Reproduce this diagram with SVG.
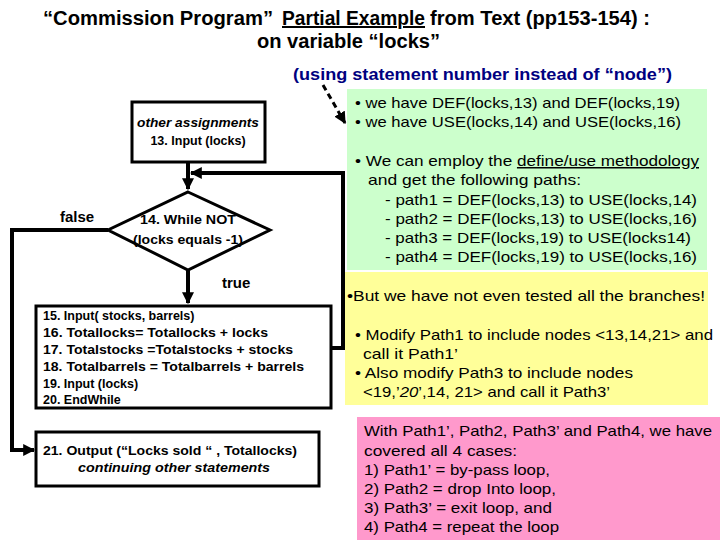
<svg xmlns="http://www.w3.org/2000/svg" width="720" height="540" viewBox="0 0 720 540">
<style>
.t{font-family:"Liberation Sans",Arial,sans-serif;fill:#000}
.title{font-size:20px;font-weight:bold}
.note{font-size:17px;font-weight:bold;fill:#000080}
.fc{font-size:12.5px;font-weight:bold}
.bx{font-size:15px}
.node{fill:#fff;stroke:#000;stroke-width:3}
.ln{fill:none;stroke:#000;stroke-width:4}
</style>
<defs>
<marker id="ah" viewBox="0 0 10 10" refX="9" refY="5" markerWidth="3" markerHeight="3" orient="auto" markerUnits="strokeWidth">
<path d="M0,0 L10,5 L0,10 z" fill="#000"/>
</marker>
<marker id="ahd" viewBox="0 0 10 10" refX="9" refY="5" markerWidth="4" markerHeight="4" orient="auto" markerUnits="strokeWidth">
<path d="M0,0 L10,5 L0,10 z" fill="#000"/>
</marker>
</defs>
<rect width="720" height="540" fill="#fff"/>

<g id="title">
<text class="t title" x="43" y="25" textLength="230" lengthAdjust="spacingAndGlyphs">“Commission Program”</text>
<text class="t title" x="282" y="25" textLength="143" lengthAdjust="spacingAndGlyphs" text-decoration="underline">Partial Example</text>
<text class="t title" x="430" y="25" textLength="220" lengthAdjust="spacingAndGlyphs">from Text (pp153-154) :</text>
<text class="t title" x="257" y="48" textLength="183" lengthAdjust="spacingAndGlyphs">on variable “locks”</text>
<text class="t note" x="293" y="80" textLength="379" lengthAdjust="spacingAndGlyphs">(using statement number instead of “node”)</text>
</g>

<g id="green">
<rect x="347" y="89" width="360" height="181" fill="#ccffcc"/>
<text class="t bx" x="355" y="108" textLength="325" lengthAdjust="spacingAndGlyphs">• we have DEF(locks,13) and DEF(locks,19)</text>
<text class="t bx" x="355" y="127" textLength="326" lengthAdjust="spacingAndGlyphs">• we have USE(locks,14) and USE(locks,16)</text>
<text class="t bx" x="355" y="166" textLength="344" lengthAdjust="spacingAndGlyphs">• We can employ the <tspan text-decoration="underline">define/use methodology</tspan></text>
<text class="t bx" x="368" y="185" textLength="213" lengthAdjust="spacingAndGlyphs">and get the following paths:</text>
<text class="t bx" x="385" y="205" textLength="312" lengthAdjust="spacingAndGlyphs">-  path1 = DEF(locks,13) to USE(locks,14)</text>
<text class="t bx" x="385" y="224" textLength="312" lengthAdjust="spacingAndGlyphs">-  path2 = DEF(locks,13) to USE(locks,16)</text>
<text class="t bx" x="385" y="243" textLength="306" lengthAdjust="spacingAndGlyphs">-  path3 = DEF(locks,19) to USE(locks14)</text>
<text class="t bx" x="385" y="262" textLength="312" lengthAdjust="spacingAndGlyphs">-  path4 = DEF(locks,19) to USE(locks,16)</text>
</g>

<g id="yellow">
<rect x="345" y="272" width="363" height="133" fill="#ffff99"/>
<text class="t bx" x="347" y="301" textLength="358" lengthAdjust="spacingAndGlyphs">•But we have not even tested all the branches!</text>
<text class="t bx" x="355" y="340" textLength="358" lengthAdjust="spacingAndGlyphs">• Modify Path1 to include nodes &lt;13,14,21&gt; and</text>
<text class="t bx" x="363" y="359" textLength="95" lengthAdjust="spacingAndGlyphs">call it Path1’</text>
<text class="t bx" x="355" y="378" textLength="278" lengthAdjust="spacingAndGlyphs">• Also modify Path3 to include nodes</text>
<text class="t bx" x="363" y="397" textLength="247" lengthAdjust="spacingAndGlyphs">&lt;19,’<tspan font-style="italic">20</tspan>’,14, 21&gt; and call it Path3’</text>
</g>

<g id="pink">
<rect x="357" y="417" width="363" height="123" fill="#ff99cc"/>
<text class="t bx" x="364" y="436" textLength="348" lengthAdjust="spacingAndGlyphs">With Path1’, Path2, Path3’ and Path4, we have</text>
<text class="t bx" x="364" y="456" textLength="153" lengthAdjust="spacingAndGlyphs">covered all 4 cases:</text>
<text class="t bx" x="364" y="475" textLength="186" lengthAdjust="spacingAndGlyphs">1) Path1’ = by-pass loop,</text>
<text class="t bx" x="364" y="494" textLength="192" lengthAdjust="spacingAndGlyphs">2) Path2 = drop Into loop,</text>
<text class="t bx" x="364" y="513" textLength="188" lengthAdjust="spacingAndGlyphs">3) Path3’ = exit loop, and</text>
<text class="t bx" x="364" y="532" textLength="195" lengthAdjust="spacingAndGlyphs">4) Path4 = repeat the loop</text>
</g>

<g id="connectors">
<line x1="323" y1="85" x2="345" y2="123" stroke="#000" stroke-width="3" stroke-dasharray="6,4" marker-end="url(#ahd)"/>
<line class="ln" x1="188" y1="162" x2="188" y2="189" marker-end="url(#ah)"/>
<polyline class="ln" points="331,348 343,348 343,173 191,173" marker-end="url(#ah)"/>
<line class="ln" x1="188" y1="270" x2="188" y2="303" marker-end="url(#ah)"/>
<polyline class="ln" points="108,230 12,230 12,450 34,450" marker-end="url(#ah)"/>
</g>

<g id="n13">
<rect class="node" x="132" y="102" width="133" height="60"/>
<text class="t fc" x="198" y="127" text-anchor="middle" font-style="italic" textLength="122" lengthAdjust="spacingAndGlyphs">other assignments</text>
<text class="t fc" x="198" y="145" text-anchor="middle">13. Input (locks)</text>
</g>

<g id="n14">
<polygon class="node" points="188,192 270,230 188,270 108,230"/>
<text class="t fc" x="188" y="224" text-anchor="middle" textLength="96" lengthAdjust="spacingAndGlyphs">14. While NOT</text>
<text class="t fc" x="188" y="244" text-anchor="middle" textLength="110" lengthAdjust="spacingAndGlyphs">(locks equals -1)</text>
<text class="t" x="60" y="222" font-size="15" font-weight="bold">false</text>
<text class="t" x="222" y="288" font-size="15" font-weight="bold">true</text>
</g>

<g id="n15">
<rect class="node" x="36" y="306" width="295" height="102"/>
<text class="t fc" x="43" y="320">15. Input( stocks, barrels)</text>
<text class="t fc" x="43" y="337" textLength="225" lengthAdjust="spacingAndGlyphs">16. Totallocks= Totallocks + locks</text>
<text class="t fc" x="43" y="354" textLength="250" lengthAdjust="spacingAndGlyphs">17. Totalstocks =Totalstocks + stocks</text>
<text class="t fc" x="43" y="371" textLength="261" lengthAdjust="spacingAndGlyphs">18. Totalbarrels = Totalbarrels + barrels</text>
<text class="t fc" x="43" y="388">19. Input (locks)</text>
<text class="t fc" x="43" y="404">20. EndWhile</text>
</g>

<g id="n21">
<rect class="node" x="36" y="432" width="283" height="54"/>
<text class="t fc" x="43" y="455" textLength="254" lengthAdjust="spacingAndGlyphs">21. Output (“Locks sold “ , Totallocks)</text>
<text class="t fc" x="174" y="472" text-anchor="middle" font-style="italic" textLength="192" lengthAdjust="spacingAndGlyphs">continuing other  statements</text>
</g>
</svg>
